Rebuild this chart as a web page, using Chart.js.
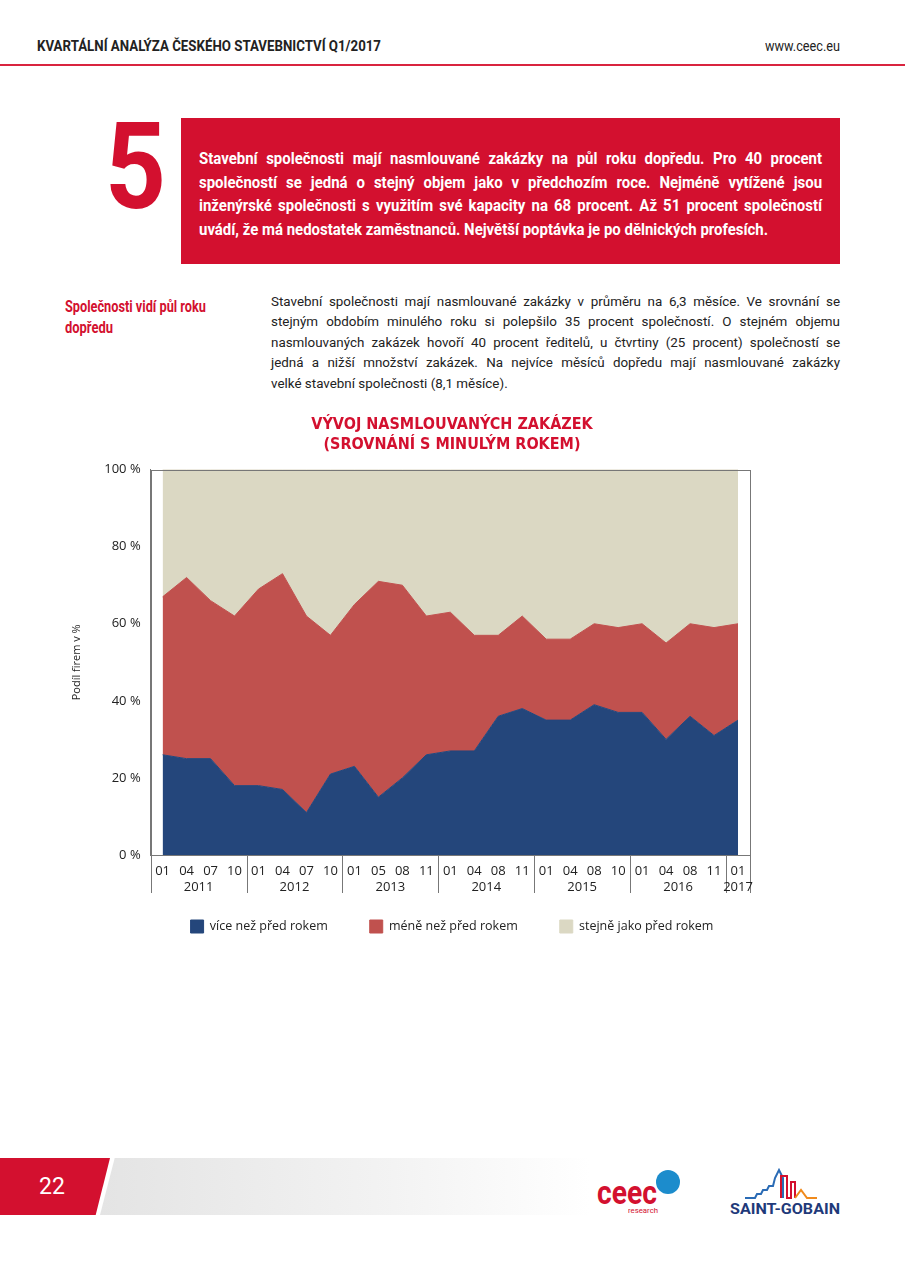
<!DOCTYPE html>
<html lang="cs">
<head>
<meta charset="UTF-8">
<title>Vývoj nasmlouvaných zakázek</title>
<script src="https://cdn.jsdelivr.net/npm/chart.js"></script>
<style>
    body {
        margin: 0;
        width: 905px;
        height: 1280px;
        position: relative;
        background: #fff;
        font-family: Roboto, "Open Sans", sans-serif;
        color: #222;
        overflow: hidden;
    }
    .b { font-weight: bold; }
    .fit { position: absolute; white-space: nowrap; transform-origin: 0 0; display: inline-block; }
    #rule {
        position: absolute; left: 0; top: 64px; width: 905px; height: 2px; background: #d9243f;
    }
    #box {
        position: absolute; left: 181px; top: 118px; width: 659px; height: 146px;
        background: #d3102f; color: #fff;
    }
    #boxin {
        position: absolute; left: 18px; top: 29px; width: 708px;
        transform: scaleX(0.88); transform-origin: 0 0;
        font-size: 17px; line-height: 23.7px;
    }
    .jl { text-align: justify; text-align-last: justify; }
    #para {
        position: absolute; left: 271px; top: 292px; width: 569px; font-size: 13.4px; line-height: 20.4px; color: #222;
    }
    #wrap {
        position: absolute; left: 55px; top: 408px; width: 794px; height: 535px;
    }
    #foot-red {
        position: absolute; left: 0; top: 1158px; width: 110px; height: 57px; background: #d3102f;
        clip-path: polygon(0 0, 100% 0, 87% 100%, 0 100%);
        color: #fff; font-size: 23px; line-height: 57px; text-indent: 39px;
    }
    #foot-band {
        position: absolute; left: 100px; top: 1158px; width: 490px; height: 57px;
        background: linear-gradient(to right, #e4e4e4, #f3f3f3 60%, #fff);
        clip-path: polygon(3% 0, 100% 0, 100% 100%, 0 100%);
    }
    #ceec-dot {
        position: absolute; left: 656px; top: 1170px; width: 24px; height: 24px; border-radius: 50%; background: #1c8ccc;
    }
</style>
</head>
<body>
<div class="fit b" data-w="344" style="left:37px;top:38px;font-size:14px">KVARTÁLNÍ ANALÝZA ČESKÉHO STAVEBNICTVÍ Q1/2017</div>
<div class="fit" data-w="75" style="left:765px;top:38px;font-size:14px">www.ceec.eu</div>
<div id="rule"></div>

<div class="fit b" data-w="61" style="left:105px;top:107px;font-size:121px;line-height:1;color:#d3102f">5</div>
<div id="box">
    <div id="boxin" class="b">
        <div class="jl">Stavební společnosti mají nasmlouvané zakázky na půl roku dopředu. Pro 40 procent</div>
        <div class="jl">společností se jedná o stejný objem jako v předchozím roce. Nejméně vytížené jsou</div>
        <div class="jl">inženýrské společnosti s využitím své kapacity na 68 procent. Až 51 procent společností</div>
        <div>uvádí, že má nedostatek zaměstnanců. Největší poptávka je po dělnických profesích.</div>
    </div>
</div>

<div class="fit b" data-w="141" style="left:65px;top:297px;font-size:16px;color:#d3102f">Společnosti vidí půl roku</div>
<div class="fit b" data-w="48" style="left:65px;top:318px;font-size:16px;color:#d3102f">dopředu</div>
<div id="para">
    <div class="jl">Stavební společnosti mají nasmlouvané zakázky v průměru na 6,3 měsíce. Ve srovnání se</div>
    <div class="jl">stejným obdobím minulého roku si polepšilo 35 procent společností. O stejném objemu</div>
    <div class="jl">nasmlouvaných zakázek hovoří 40 procent ředitelů, u čtvrtiny (25 procent) společností se</div>
    <div class="jl">jedná a nižší množství zakázek. Na nejvíce měsíců dopředu mají nasmlouvané zakázky</div>
    <div>velké stavební společnosti (8,1 měsíce).</div>
</div>

<div id="wrap"><canvas id="myChart"></canvas></div>

<div id="foot-band"></div>
<div id="foot-red">22</div>
<div class="fit b" data-w="60" style="left:597px;top:1176px;font-size:33px;line-height:1;color:#d3102f">ceec</div>
<div class="fit" data-w="30" style="left:628px;top:1206px;font-size:8px;color:#d3102f">research</div>
<div id="ceec-dot"></div>
<svg style="position:absolute;left:745px;top:1168px" width="80" height="32" viewBox="0 0 80 32">
    <polyline points="0,30 10,30 12,26 16,26 18,22 22,22 24,18 28,18 30,10 34,2 38,10 38,30" fill="none" stroke="#2a6bb5" stroke-width="2"/>
    <polyline points="36,30 36,8 42,8 42,30 46,30 46,14 50,14 50,30" fill="none" stroke="#d3102f" stroke-width="2"/>
    <polyline points="50,30 56,22 62,30 72,30" fill="none" stroke="#f08a1c" stroke-width="2"/>
</svg>
<div class="fit b" data-w="110" style="left:730px;top:1200px;font-size:15px;color:#1f3a7a">SAINT-GOBAIN</div>

<script>
    // zúžení textu na šířku z předlohy
    document.querySelectorAll(".fit").forEach(el => {
        const w = el.getBoundingClientRect().width;
        el.style.transform = "scaleX(" + (parseFloat(el.dataset.w) / w) + ")";
    });

    // Osa X: měsíce a roky
    const mesice = ["01", "04", "07", "10", "01", "04", "07", "10", "01", "05", "08", "11",
                    "01", "04", "08", "11", "01", "04", "08", "10", "01", "04", "08", "11", "01"];
    const roky = ["2011", "2012", "2013", "2014", "2015", "2016", "2017"];
    const zacatekRoku = [0, 4, 8, 12, 16, 20, 24];

    // Podíl firem v %
    const vice = [26, 25, 25, 18, 18, 17, 11, 21, 23, 15, 20, 26, 27, 27, 36, 38, 35, 35, 39, 37, 37, 30, 36, 31, 35];
    const mene = [41, 47, 41, 44, 51, 56, 51, 36, 42, 56, 50, 36, 36, 30, 21, 24, 21, 21, 21, 22, 23, 25, 24, 28, 25];
    const stejne = [33, 28, 34, 38, 31, 27, 38, 43, 35, 29, 30, 38, 37, 43, 43, 38, 44, 44, 40, 41, 40, 45, 40, 41, 40];

    const BASE = '"Open Sans", sans-serif';

    // rámeček kolem plochy grafu
    const ramecek = {
        id: "ramecek",
        afterDatasetsDraw(chart) {
            const a = chart.chartArea, c = chart.ctx;
            c.save();
            c.strokeStyle = "#777";
            c.lineWidth = 1;
            c.strokeRect(Math.round(a.left) + 0.5, Math.round(a.top) + 0.5,
                Math.round(a.right - a.left), Math.round(a.bottom - a.top));
            c.restore();
        }
    };

    // druhá úroveň osy X - roky a oddělovače
    const osaRoku = {
        id: "osaRoku",
        afterDraw(chart) {
            const x = chart.scales.x, c = chart.ctx, dole = chart.chartArea.bottom;
            const pul = (x.getPixelForValue(1) - x.getPixelForValue(0)) / 2;
            const hrany = zacatekRoku.map(i => x.getPixelForValue(i) - pul);
            hrany.push(x.getPixelForValue(mesice.length - 1) + pul);
            c.save();
            c.strokeStyle = "#777";
            c.lineWidth = 1;
            hrany.forEach(px => {
                c.beginPath();
                c.moveTo(Math.round(px) + 0.5, dole);
                c.lineTo(Math.round(px) + 0.5, dole + 38);
                c.stroke();
            });
            c.fillStyle = "#222";
            c.font = "13px " + BASE;
            c.textAlign = "center";
            c.textBaseline = "middle";
            roky.forEach((r, i) => c.fillText(r, (hrany[i] + hrany[i + 1]) / 2, dole + 32));
            c.restore();
        }
    };

    function serie(label, data, barva, fill) {
        return {
            label: label,
            data: data,
            backgroundColor: barva,
            borderColor: barva,
            borderWidth: 1,
            pointRadius: 0,
            tension: 0,
            fill: fill
        };
    }

    new Chart(document.getElementById("myChart"), {
        type: "line",
        data: {
            labels: mesice,
            datasets: [
                serie("více než před rokem", vice, "#24467b", "origin"),
                serie("méně než před rokem", mene, "#c0514e", "-1"),
                serie("stejně jako před rokem", stejne, "#dbd8c3", "-1")
            ]
        },
        options: {
            responsive: true,
            maintainAspectRatio: false,
            animation: false,
            layout: { padding: 0 },
            plugins: {
                title: {
                    display: true,
                    text: ["VÝVOJ NASMLOUVANÝCH ZAKÁZEK", "(SROVNÁNÍ S MINULÝM ROKEM)"],
                    color: "#d3102f",
                    font: { family: '"DejaVu Sans Condensed", sans-serif', size: 16, weight: "bold", lineHeight: 1.3 },
                    padding: { top: 6, bottom: 14 }
                },
                legend: {
                    position: "bottom",
                    labels: {
                        boxWidth: 13,
                        boxHeight: 13,
                        padding: 42,
                        color: "#222",
                        font: { family: BASE, size: 12.5 }
                    }
                },
                tooltip: { enabled: false }
            },
            scales: {
                x: {
                    offset: true,
                    grid: { display: false },
                    border: { color: "#777" },
                    ticks: {
                        autoSkip: false,
                        maxRotation: 0,
                        padding: 0,
                        color: "#222",
                        font: { family: BASE, size: 13 }
                    },
                    afterFit: s => { s.height = 23; }
                },
                y: {
                    stacked: true,
                    min: 0,
                    max: 100,
                    grid: { display: false },
                    border: { color: "#777" },
                    ticks: {
                        stepSize: 20,
                        padding: 2,
                        color: "#222",
                        font: { family: BASE, size: 13 },
                        callback: v => v + " %"
                    },
                    title: {
                        display: true,
                        text: "Podíl firem v %",
                        color: "#222",
                        font: { family: BASE, size: 11 },
                        padding: { top: 15, bottom: 19 }
                    }
                },
                y2: {
                    position: "right",
                    grid: { display: false },
                    border: { display: false },
                    ticks: { display: false },
                    afterFit: s => { s.width = 99; }
                }
            }
        },
        plugins: [ramecek, osaRoku]
    });
</script>
</body>
</html>
